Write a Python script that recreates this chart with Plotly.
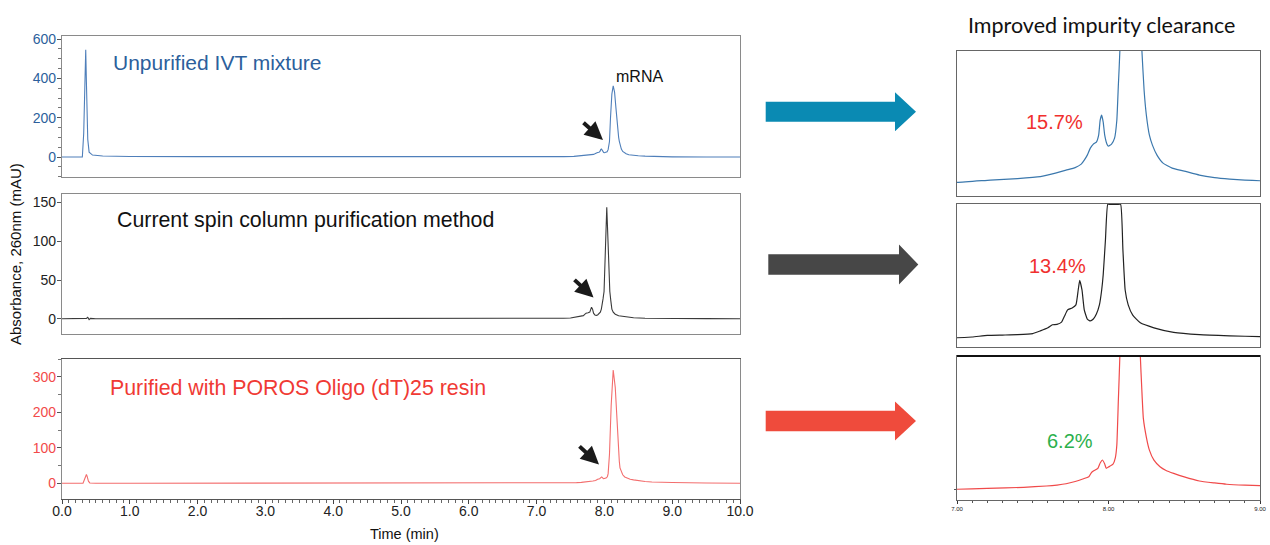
import numpy as np
import plotly.graph_objects as go

# ---------------- data ----------------
# Sample 1: unpurified IVT mixture (time in min, absorbance in mAU)
t_unpurified = [0.00, 0.30, 0.32, 0.34, 0.35, 0.36, 0.38, 0.40, 0.45, 0.60, 1.00, 2.00, 4.00, 6.00,
                7.00, 7.22, 7.40, 7.55, 7.65, 7.72, 7.78, 7.82, 7.84, 7.86, 7.88, 7.90, 7.92,
                7.935, 7.945, 7.955, 7.965, 7.975, 7.99, 8.00, 8.02, 8.04, 8.055, 8.065,
                8.075, 8.09, 8.11, 8.13, 8.15, 8.17, 8.19, 8.21, 8.22, 8.235, 8.25, 8.27,
                8.29, 8.32, 8.36, 8.42, 8.50, 8.60, 8.70, 8.80, 8.90, 9.00, 9.50, 10.00]
a_unpurified = [0, 0, 120, 420, 545, 380, 90, 25, 10, 5, 3, 2, 1, 0.5,
                0, 1.4, 2.3, 3.5, 5.6, 7.4, 8.9, 11.0, 13.4, 16.4, 20.6, 23.0, 24.2,
                28.4, 37.4, 40.4, 36.2, 28.4, 23.0, 21.8, 23.0, 26.6, 37.4, 58.4,
                79, 200, 320, 362, 330, 250, 160, 100, 80, 55.4, 40.4, 28.4,
                22.4, 16.4, 11.6, 8.6, 6.8, 4.4, 2.9, 2.0, 1.4, 1.0, 0.5, 0]

# Sample 2: current spin column purification
t_spin = [0.00, 0.30, 0.36, 0.38, 0.40, 0.42, 0.50, 1.00, 3.00, 5.00,
          7.00, 7.10, 7.20, 7.30, 7.40, 7.50, 7.55, 7.60, 7.63, 7.66, 7.69, 7.71, 7.73,
          7.76, 7.785, 7.80, 7.81, 7.825, 7.84, 7.86, 7.88, 7.90, 7.92, 7.94, 7.955,
          7.965, 7.98, 7.995, 8.01, 8.025, 8.035, 8.045, 8.06, 8.08, 8.095, 8.11, 8.13,
          8.16, 8.21, 8.30, 8.43, 8.60, 8.80, 9.00, 9.50, 10.00]
a_spin = [0, 0, 0.5, 2.0, -1.0, 0.5, 0, 0, 0, 0,
          0, 0.2, 0.6, 0.7, 0.8, 1.1, 1.8, 2.6, 3.4, 3.5, 4.1, 5.7, 7.3,
          7.8, 8.6, 12.5, 15.0, 12.5, 7.3, 4.9, 4.4, 4.9, 6.2, 8.6, 12.5,
          16.5, 25.7, 35.2, 85, 140, 144, 120, 70, 35.2, 23.1, 12.5, 8.6,
          5.9, 3.9, 2.6, 1.4, 0.8, 0.5, 0.3, 0.2, 0]

# Sample 3: purified with POROS Oligo (dT)25 resin
t_poros = [0.00, 0.31, 0.33, 0.35, 0.36, 0.37, 0.39, 0.41, 0.50, 1.00, 3.00, 5.00,
           7.00, 7.20, 7.44, 7.59, 7.66, 7.72, 7.78, 7.83, 7.87, 7.885, 7.90, 7.93,
           7.945, 7.96, 7.975, 7.985, 8.00, 8.03, 8.045, 8.055, 8.065, 8.075, 8.10,
           8.13, 8.16, 8.19, 8.21, 8.22, 8.23, 8.25, 8.27, 8.30, 8.34, 8.38, 8.43,
           8.50, 8.60, 8.70, 8.78, 8.90, 9.00, 9.50, 10.00]
a_poros = [0, 0, 10, 22, 25, 20, 6, 1, 0, 0, 0, 0,
           0, 0.5, 1.2, 2.0, 2.6, 3.4, 4.8, 6.3, 7.7, 10.0, 11.2, 12.9,
           16.2, 18.0, 15.5, 12.9, 13.7, 15.4, 19.3, 27.2, 54.8, 81.8, 220,
           319, 270, 150, 82, 61.2, 43.6, 32.0, 24.1, 17.9, 13.9, 11.6, 9.8,
           7.6, 5.1, 3.9, 3.1, 2.5, 2.2, 1.0, 0]

panel_labels = ["Unpurified IVT mixture", "Current spin column purification method",
                "Purified with POROS Oligo (dT)25 resin"]
impurity_pct = ["15.7%", "13.4%", "6.2%"]
left_xticks = [0, 1, 2, 3, 4, 5, 6, 7, 8, 9, 10]
zoom_xticks = [7, 8, 9]

# ---------------- layout helpers ----------------
W, H = 1270, 545
def px(x): return x / W
def py(y): return 1 - y / H

FONT = "Liberation Sans, Arial, sans-serif"
BLUE_TXT = "#2c5f9c"
RED_TXT = "#f0302e"
GREEN_TXT = "#2bb04c"

left_y = {"y": [-100, 617], "y2": [-20, 161], "y3": [-45, 350]}
right_y = {"y4": [-8, 79], "y5": [-2.5, 35], "y6": [-6.6, 82]}

fig = go.Figure()
line_cols_left = ["#4f7fba", "#3a3a3a", "#f36e6e"]
line_cols_right = ["#3b78ad", "#222222", "#f04a4a"]
datasets = [(t_unpurified, a_unpurified), (t_spin, a_spin), (t_poros, a_poros)]

for i, (t, a) in enumerate(datasets):
    fig.add_trace(go.Scatter(x=t, y=a, mode="lines", line=dict(color=line_cols_left[i], width=1.1),
                             xaxis="x" if i == 0 else f"x{i+1}", yaxis="y" if i == 0 else f"y{i+1}",
                             showlegend=False, hoverinfo="x+y"))
for i, (t, a) in enumerate(datasets):
    ax = f"y{i+4}"
    yv = np.array(a, dtype=float)
    if i == 1:  # off-scale part drawn along the top edge, like the original software
        yv = np.minimum(yv, right_y[ax][1] * 0.997)
    fig.add_trace(go.Scatter(x=t, y=yv, mode="lines",
                             line=dict(color=line_cols_right[i], width=1.2, shape="spline", smoothing=0.4),
                             xaxis=f"x{i+4}", yaxis=ax, showlegend=False, hoverinfo="x+y"))

frame_left = dict(showline=True, mirror=True, linecolor="#8a8a8a", linewidth=1.2,
                  showgrid=False, zeroline=False, automargin=False)
frame_right = dict(showline=True, mirror=True, linecolor="#666666", linewidth=1.4,
                   showgrid=False, zeroline=False, automargin=False)

left_dom = [(176.7, 35.7), (334.3, 194.0), (499.3, 359.0)]
right_dom = [(195.7, 51.0), (347.3, 204.0), (500.0, 356.0)]
ytick_cols = [BLUE_TXT, "#222222", "#f24a4a"]
dticks = [200, 50, 100]
minors = [50, None, 50]

layout = dict(width=W, height=H, autosize=False, margin=dict(l=0, r=0, t=0, b=0, pad=0),
              paper_bgcolor="white", plot_bgcolor="white",
              font=dict(family=FONT, color="#222222"), showlegend=False)

for i in range(3):
    xn = "xaxis" if i == 0 else f"xaxis{i+1}"
    yn = "yaxis" if i == 0 else f"yaxis{i+1}"
    xa = "x" if i == 0 else f"x{i+1}"
    ya = "y" if i == 0 else f"y{i+1}"
    xd = dict(domain=[px(62), px(740)], range=[0, 10], anchor=ya, **frame_left)
    if i == 2:
        xd.update(tickmode="array", tickvals=left_xticks, tickformat=".1f", ticks="outside",
                  ticklen=4, tickcolor="#444", tickfont=dict(size=14, color="#222"),
                  ticklabelstandoff=-5,
                  minor=dict(dtick=0.1, tick0=0, ticks="outside", ticklen=3, tickcolor="#666"))
        xd["linecolor"] = "#555555"
    else:
        xd.update(showticklabels=False, ticks="")
    layout[xn] = xd
    yd = dict(domain=[py(left_dom[i][0]), py(left_dom[i][1])], range=left_y[ya], anchor=xa,
              tick0=0, dtick=dticks[i], ticks="outside", ticklen=4, tickcolor="#555",
              ticklabelstandoff=-2,
              tickfont=dict(size=14, color=ytick_cols[i]), **frame_left)
    if minors[i]:
        yd["minor"] = dict(dtick=minors[i], tick0=0, ticks="outside", ticklen=2.5, tickcolor="#777")
    layout[yn] = yd

for i in range(3):
    xn, yn = f"xaxis{i+4}", f"yaxis{i+4}"
    xa, ya = f"x{i+4}", f"y{i+4}"
    xd = dict(domain=[px(957), px(1260)], range=[7, 9], anchor=ya, **frame_right)
    if i == 2:
        xd.update(tickmode="array", tickvals=zoom_xticks, tickformat=".2f", ticks="outside",
                  ticklen=3, tickcolor="#333", tickfont=dict(size=6, color="#222"),
                  minor=dict(dtick=0.1, tick0=7, ticks="outside", ticklen=2, tickcolor="#555"))
    else:
        xd.update(showticklabels=False, ticks="")
    layout[xn] = xd
    yd = dict(domain=[py(right_dom[i][0]), py(right_dom[i][1])], range=right_y[ya], anchor=xa,
              showticklabels=False, **frame_right)
    if i == 2:
        yd.update(tickmode="array", tickvals=[0], ticks="outside", ticklen=2, tickcolor="#555")
    else:
        yd.update(ticks="")
    layout[yn] = yd

fig.update_layout(**layout)

# ---------------- text ----------------
ann = []
def txt(x, y, s, size, color, xanchor="left", family=FONT, angle=0):
    ann.append(dict(x=px(x), y=py(y), xref="paper", yref="paper", text=s, showarrow=False,
                    xanchor=xanchor, yanchor="middle", textangle=angle,
                    font=dict(size=size, color=color, family=family)))

txt(111, 62.5, panel_labels[0], 21, BLUE_TXT)
txt(115, 220, panel_labels[1], 21.35, "#111111")
txt(108, 388, panel_labels[2], 21.35, "#f03a34")
txt(639, 76, "mRNA", 16, "#111111", xanchor="center")
txt(1101, 25, "Improved impurity clearance", 21.5, "#111111", xanchor="center",
    family="Lato, Open Sans, sans-serif")
txt(1054, 122, impurity_pct[0], 20, RED_TXT, xanchor="center")
txt(1057, 266, impurity_pct[1], 20, RED_TXT, xanchor="center")
txt(1070, 441, impurity_pct[2], 20, GREEN_TXT, xanchor="center")
txt(404, 534, "Time (min)", 14.5, "#111111", xanchor="center")
txt(15, 254, "Absorbance, 260nm (mAU)", 15, "#111111", xanchor="center", angle=-90)

# small black arrows pointing to the impurity peaks (head, tail in px)
for (hx, hy), (tx, ty) in [((603, 140), (582, 121.5)), ((593.5, 297.5), (573, 278.5)),
                           ((599, 464.5), (578, 445))]:
    ann.append(dict(x=px(hx), y=py(hy), xref="paper", yref="paper", text="", showarrow=True,
                    ax=tx - hx, ay=ty - hy, axref="pixel", ayref="pixel", arrowhead=2,
                    arrowsize=0.9, arrowwidth=4, arrowcolor="#1a1a1a", standoff=0))
fig.update_layout(annotations=ann)

# ---------------- big block arrows ----------------
def block_arrow(x0, x1, tip, yc, h, hh, color):
    pts = [(x0, yc - h), (x1, yc - h), (x1, yc - hh), (tip, yc), (x1, yc + hh), (x1, yc + h), (x0, yc + h)]
    path = "M " + " L ".join(f"{px(x):.5f},{py(y):.5f}" for x, y in pts) + " Z"
    return dict(type="path", xref="paper", yref="paper", path=path, fillcolor=color,
                line=dict(width=0), layer="above")

shapes = [
    block_arrow(765.7, 895, 916, 111.7, 10, 19.5, "#0a8ab3"),
    block_arrow(768.3, 899, 918.3, 264.5, 10.3, 20, "#474747"),
    block_arrow(765.7, 895, 916, 421, 10.3, 19.5, "#ef4b3c"),
    dict(type="line", xref="x6 domain", yref="y6 domain", x0=0, x1=1, y0=1, y1=1,
         line=dict(color="#111111", width=2)),
]
fig.update_layout(shapes=shapes)

fig.write_html("out.html",
               post_script="document.body.style.margin='0';document.body.style.overflow='hidden';")
